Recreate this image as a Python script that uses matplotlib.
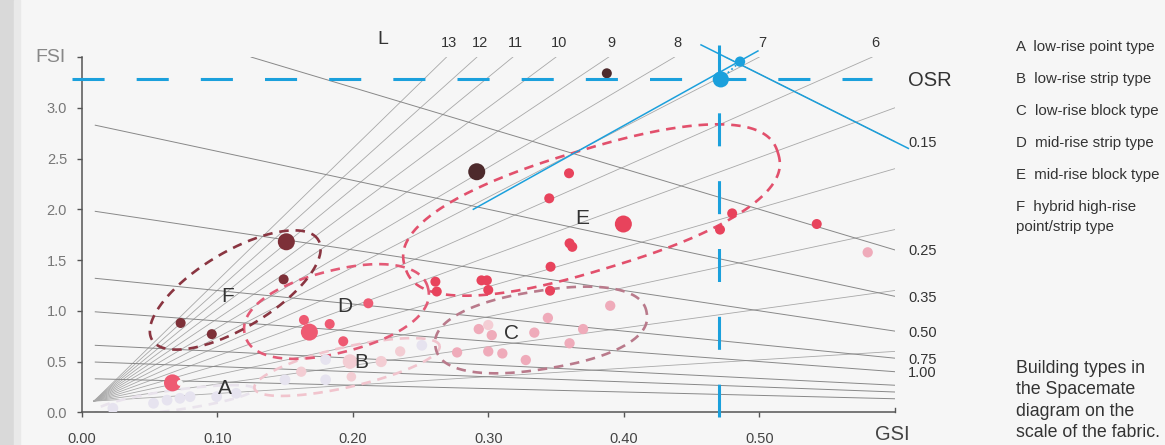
import numpy as np
import matplotlib
matplotlib.use('Agg')
import matplotlib.pyplot as plt
from matplotlib.patches import Rectangle

plt.rcParams['font.family'] = ['Liberation Sans', 'DejaVu Sans']

# spacemate grid
L_values = [1, 2, 3, 4, 5, 6, 7, 8, 9, 10, 11, 12, 13]
L_labelled = [13, 12, 11, 10, 9, 8, 7, 6]
OSR_values = [0.15, 0.25, 0.35, 0.5, 0.75, 1.0, 1.5, 2.0, 3.0]
OSR_labels = ['0.15', '0.25', '0.35', '0.50', '0.75', '1.00']
xtick_vals = [0.0, 0.1, 0.2, 0.3, 0.4, 0.5]
ytick_vals = [0.0, 0.5, 1.0, 1.5, 2.0, 2.5, 3.0]

# building samples (gsi, fsi) per type
A_gsi = [0.023, 0.053, 0.063, 0.0725, 0.080, 0.0996, 0.114, 0.150, 0.180, 0.180, 0.251]
A_fsi = [0.04, 0.089, 0.12, 0.138, 0.154, 0.154, 0.187, 0.32, 0.32, 0.52, 0.66]
B_gsi = [0.162, 0.198, 0.199, 0.221, 0.235]
B_fsi = [0.40, 0.50, 0.35, 0.50, 0.60]
C_gsi = [0.277, 0.293, 0.3026, 0.300, 0.3104, 0.3277, 0.334, 0.344, 0.360, 0.370, 0.390, 0.580]
C_fsi = [0.59, 0.82, 0.76, 0.60, 0.58, 0.515, 0.785, 0.93, 0.68, 0.82, 1.05, 1.576]
C_pale_gsi = [0.300]
C_pale_fsi = [0.86]
D_gsi = [0.164, 0.168, 0.183, 0.193, 0.2115, 0.067]
D_fsi = [0.91, 0.79, 0.87, 0.70, 1.074, 0.29]
D_big = [False, True, False, False, False, True]
E_gsi = [0.261, 0.262, 0.295, 0.299, 0.300, 0.346, 0.3456, 0.3596, 0.345, 0.3997, 0.360, 0.362, 0.480, 0.471, 0.5424]
E_fsi = [1.287, 1.19, 1.30, 1.30, 1.205, 1.434, 1.198, 2.355, 2.108, 1.855, 1.665, 1.63, 1.96, 1.80, 1.855]
E_big = [False] * 9 + [True] + [False] * 5
F_gsi = [0.151, 0.149, 0.073, 0.096]
F_fsi = [1.68, 1.31, 0.88, 0.77]
F_big = [True, False, False, False]
dark_gsi = [0.2915, 0.3875]
dark_fsi = [2.37, 3.34]
dark_big = [True, False]

# cluster outlines: centre (gsi, fsi), half length / half width in px, tilt, roundness
hull_names = ['A', 'B', 'C', 'D', 'E', 'F']
hull_gsi = [0.0689, 0.1958, 0.339, 0.188, 0.3762, 0.1133]
hull_fsi = [0.121, 0.446, 0.811, 0.993, 1.993, 1.205]
hull_len = [80, 95, 107, 94.5, 195, 97]
hull_wid = [10, 20, 39, 41, 60, 38]
hull_tilt = [8, 13, 9.1, 14.4, 17, 31]
hull_round = [2.0, 2.0, 2.3, 2.2, 2.4, 2.0]
hull_colors = ['#e9e3ec', '#f1c4cd', '#b97a8b', '#e35a76', '#e2506c', '#8a3541']
letter_gsi = [0.106, 0.2066, 0.317, 0.194, 0.369, 0.108]
letter_fsi = [0.237, 0.49, 0.78, 1.04, 1.91, 1.14]

# highlighted case
case_gsi = 0.4716
case_fsi = 3.28
case2_gsi = 0.4858
case2_fsi = 3.455
case_ray_gsi = [0.289, 0.499]
case_ray_fsi = [2.0, 3.56]
case_osr_gsi = [0.457, 0.61]

legend_lines = ['A  low-rise point type', 'B  low-rise strip type', 'C  low-rise block type',
                'D  mid-rise strip type', 'E  mid-rise block type', 'F  hybrid high-rise',
                'point/strip type']
caption_lines = ['Building types in', 'the Spacemate', 'diagram on the', 'scale of the fabric.']

W, H = 1165, 445
fig = plt.figure(figsize=(W / 100, H / 100), dpi=100, facecolor='#f6f6f6')
fig.patches.append(Rectangle((0, 0), 14 / W, 1, transform=fig.transFigure, color='#d9d9d9', zorder=0))
fig.patches.append(Rectangle((14 / W, 0), 6 / W, 1, transform=fig.transFigure, color='#e9e9e9', zorder=0))

ax_pos = [81.7 / W, 1 - 412.3 / H, 813.1 / W, 355.25 / H]
ax = fig.add_axes(ax_pos)
ax.set_facecolor('none')
xmax, ymax = 0.6, 3.5
ax.set_xlim(0, xmax)
ax.set_ylim(0, ymax)
SX = W * ax_pos[2] / xmax
SY = H * ax_pos[3] / ymax

blue = '#1ba0dc'

# L lines (fan)
g0, f0 = 0.009, 0.11
for L in L_values:
    ge = min(ymax / L, xmax)
    ax.plot([g0, ge], [f0, L * ge], color='#a8a8a8', lw=0.6, zorder=1)
for L in L_labelled:
    ax.text(ymax / L + 0.002, 3.64, str(L), ha='center', va='center', fontsize=10.5,
            color='#333333', clip_on=False)
ax.text(0.222, 3.67, 'L', ha='center', va='center', fontsize=14, color='#333333', clip_on=False)

# OSR lines
for osr in OSR_values:
    gs = max(0.01, 1 - ymax * osr)
    g = np.array([gs, xmax])
    ax.plot(g, (1 - g) / osr, color='#888888', lw=0.7, zorder=1)
for lab in OSR_labels:
    osr = float(lab)
    ax.text(0.61, (1 - xmax) / osr - 0.015, lab, ha='left', va='center', fontsize=10.5,
            color='#333333', clip_on=False)
ax.text(0.61, 3.27, 'OSR', ha='left', va='center', fontsize=14.5, color='#333333', clip_on=False)


def hull(cx, cy, a, b, tilt, n):
    t = np.linspace(0, 2 * np.pi, 400)
    c, s = np.cos(t), np.sin(t)
    u = a * np.sign(c) * np.abs(c) ** (2 / n)
    v = b * np.sign(s) * np.abs(s) ** (2 / n)
    th = np.radians(tilt)
    X = u * np.cos(th) - v * np.sin(th)
    Y = u * np.sin(th) + v * np.cos(th)
    return cx + X / SX, cy + Y / SY


for i in range(len(hull_names)):
    hx, hy = hull(hull_gsi[i], hull_fsi[i], hull_len[i], hull_wid[i], hull_tilt[i], hull_round[i])
    ax.plot(hx, hy, color=hull_colors[i], lw=1.9, dashes=(3.6, 2.6), zorder=2)
    ax.text(letter_gsi[i], letter_fsi[i], hull_names[i], ha='center', va='center',
            fontsize=15, color='#333333', zorder=5)


def sizes(big):
    return [150 if b else 52 for b in big]


ax.scatter(A_gsi, A_fsi, s=60, color='#e6e3ef', edgecolors='none', zorder=3)
ax.scatter(B_gsi, B_fsi, s=[55, 110, 48, 65, 55], color='#f3cdd3', edgecolors='none', zorder=3)
ax.scatter(C_gsi, C_fsi, s=55, color='#efabba', edgecolors='none', zorder=3)
ax.scatter(C_pale_gsi, C_pale_fsi, s=55, color='#f4cdd4', edgecolors='none', zorder=3)
ax.scatter(D_gsi, D_fsi, s=sizes(D_big), color='#ee5a72', edgecolors='none', zorder=3)
ax.scatter([D_gsi[-1] + 0.0055], [D_fsi[-1]], s=18, color='#f6f6f6', edgecolors='none', zorder=3)
ax.scatter(E_gsi, E_fsi, s=sizes(E_big), color='#e8435c', edgecolors='none', zorder=3)
ax.scatter(F_gsi, F_fsi, s=sizes(F_big), color='#7d3038', edgecolors='none', zorder=3)
ax.scatter(dark_gsi, dark_fsi, s=sizes(dark_big), color='#4d2a2c', edgecolors='none', zorder=3)

# highlighted case in blue
ax.plot([-0.0072, 0.5833], [case_fsi, case_fsi], color=blue, lw=2.2, dashes=(10.5, 10.5),
        clip_on=False, zorder=6)
ax.plot([0.4705, 0.4705], [3.62, -0.05], color=blue, lw=2.2, dashes=(10.8, 11.4),
        clip_on=False, zorder=6)
ax.plot(case_ray_gsi, case_ray_fsi, color=blue, lw=1.1, clip_on=False, zorder=6)
ax.plot(case_osr_gsi, [(1 - g) / 0.15 for g in case_osr_gsi], color=blue, lw=1.1,
        clip_on=False, zorder=6)
ax.plot([case_gsi, case2_gsi], [case_fsi, case2_fsi], color=blue, lw=1.3, ls=':', zorder=6)
ax.scatter([case_gsi], [case_fsi], s=135, color=blue, edgecolors='none', zorder=7, clip_on=False)
ax.scatter([case2_gsi], [case2_fsi], s=55, color=blue, edgecolors='none', zorder=7, clip_on=False)

# axes styling
for side in ['top', 'right']:
    ax.spines[side].set_visible(False)
for side in ['left', 'bottom']:
    ax.spines[side].set_color('#555555')
    ax.spines[side].set_linewidth(1.1)
ax.set_xticks(xtick_vals)
ax.set_xticklabels(['%.2f' % v for v in xtick_vals])
ax.set_yticks(ytick_vals + [ymax])
ax.set_yticklabels(['%.1f' % v for v in ytick_vals] + [''])
ax.tick_params(axis='x', direction='out', length=3.5, width=1, colors='#555555',
               labelsize=10.5, pad=11, labelcolor='#444444')
ax.tick_params(axis='y', direction='out', length=3.5, width=1, colors='#555555',
               labelsize=10.5, pad=7, labelcolor='#777777')
ax.plot([xmax, xmax], [0, 0.04], color='#555555', lw=1, clip_on=False, zorder=4)

fig.text(66 / W, 1 - 57.5 / H, 'FSI', ha='right', va='center', fontsize=14, color='#888888')
fig.text(875 / W, 1 - 434.5 / H, 'GSI', ha='left', va='center', fontsize=14.5, color='#444444')

legend_y = [46.7, 79, 110.7, 142.7, 175, 207.3, 226.7]
for txt, y in zip(legend_lines, legend_y):
    fig.text(1016 / W, 1 - y / H, txt, ha='left', va='center', fontsize=10.8, color='#333333')
for k, txt in enumerate(caption_lines):
    fig.text(1016 / W, 1 - (368.3 + 21.5 * k) / H, txt, ha='left', va='center',
             fontsize=12.8, color='#333333')

fig.savefig('out.png', dpi=100, facecolor=fig.get_facecolor())
